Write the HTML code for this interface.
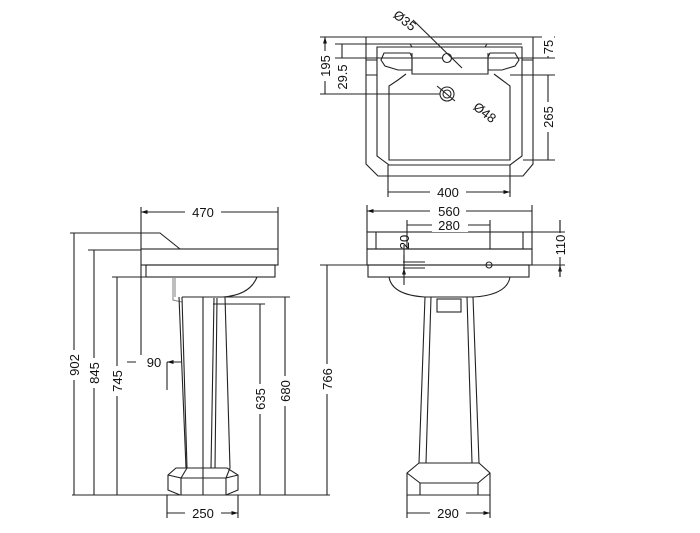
<!DOCTYPE html>
<html><head><style>
html,body{margin:0;padding:0;background:#fff;width:700px;height:533px;overflow:hidden}
svg{display:block}
text{font-family:"Liberation Sans",sans-serif;font-size:13px;fill:#111}
</style></head><body>
<svg width="700" height="533" viewBox="0 0 700 533" xmlns="http://www.w3.org/2000/svg">
<defs>
<marker id="a" viewBox="0 0 10 10" refX="10" refY="5" markerWidth="6" markerHeight="6" orient="auto-start-reverse"><path d="M0,2 L10,5 L0,8 z" fill="#111"/></marker>
</defs>
<g fill="none" stroke="#222" stroke-width="1.1">
<polygon points="366,37 533,37 533,164 523,176 378,176 366,164"/>
<polygon points="377,47 522,47 522,156 510,165 389,165 377,156"/>
<path d="M377,44 L410,44 L412,47 M485,47 L487,44 L522,44"/>
<path d="M410,44 L487,44"/>
<polyline points="412,53 412,74 488,74 488,53"/>
<polygon points="384,53 410,53 412,57 412,70 398,70 385,66 381,60"/>
<polygon points="515,53 490,53 488,57 488,70 502,70 515,66 519,60"/>
<polyline points="406,74 398,80 389,86 389,160 510,160 510,86 502,80 494,74"/>
<path d="M366,60 L377,60 M366,75 L377,75 M522,60 L533,60 M522,75 L533,75"/>
<circle cx="447" cy="58" r="4.5"/>
<circle cx="447" cy="94" r="7"/><circle cx="447" cy="94" r="4"/>
<path d="M413,20 L462,68 M437,86 L455,101"/>
<path d="M320,37 L366,37 M335,44 L377,44 M335,58 L443,58 M320,94 L440,94 M452,58 L555,58 M533,37 L555,37 M510,75 L555,75 M523,160 L555,160 M388,165 L388,197 M510,165 L510,197"/>
<path d="M325,37 L325,94 M342,44 L342,58 M548,37 L548,58 M548,75 L548,160 M388,192 L510,192" marker-start="url(#a)" marker-end="url(#a)"/>
<rect x="141" y="249" width="137" height="16"/>
<rect x="146" y="265" width="129" height="12"/>
<path d="M70,233 L160,233 L180,249"/>
<path d="M257,277 Q250,295 223,297"/>
<path d="M175,277 L175,297 M173,277 L173,300 L182,302" stroke="#888"/>
<polyline points="182,297 225,297"/>
<path d="M182,297 L187,468 M225,297 L230,468 M203,297 L203,495 M214,298 L211,468 M217,298 L215,468"/>
<path d="M179,297 L186,468"/>
<polygon points="176,468 227,468 238,475 238,490 226,495 180,495 168,490 168,475"/>
<path d="M187,468 L181,478 L168,475 M230,468 L226,478 L238,475 M181,478 L181,495 M226,478 L226,495 M181,478 L226,478"/>
<path d="M141,249 L141,207 M278,249 L278,207 M88,250 L141,250 M112,277 L146,277 M225,297 L290,297 M213,304 L265,304 M72,495 L290,495 M141,265 L141,356 M167,495 L167,518 M238,495 L238,518 M167,362 L167,390"/>
<path d="M141,212 L278,212 M74,233 L74,495 M94,250 L94,495 M117,277 L117,495 M260,304 L260,495 M285,297 L285,495 M167,513 L238,513" marker-start="url(#a)" marker-end="url(#a)"/>
<path d="M127,362 L141,362 M181,362 L167,362" marker-end="url(#a)"/>
<rect x="367" y="232" width="165" height="17"/>
<path d="M376,232 L376,249 M523,232 L523,249 M407,232 L407,249 M490,232 L490,249"/>
<rect x="367" y="249" width="165" height="16"/>
<rect x="368" y="265" width="161" height="12"/>
<path d="M389,277 Q392,295 425,297 M510,277 Q507,295 473,297"/>
<path d="M425,297 L473,297 M425,297 L419,463 M473,297 L479,463 M431,297 L426,463 M467,297 L472,463"/>
<rect x="437" y="299" width="24" height="13"/>
<polygon points="419,463 479,463 490,473 490,495 407,495 407,473"/>
<path d="M407,473 L420,483 L478,483 L490,473 M420,483 L420,495 M478,483 L478,495"/>
<path d="M403,262 L425,262 M403,268 L425,268 M485,265 L500,265"/>
<circle cx="489" cy="265" r="3"/>
<path d="M367,232 L367,205 M532,232 L532,205 M407,232 L407,220 M490,232 L490,220 M532,232 L565,232 M529,265 L565,265 M320,265 L367,265 M290,495 L330,495 M407,495 L407,518 M490,495 L490,518"/>
<path d="M367,211 L532,211 M407,225 L490,225 M327,265 L327,495 M407,513 L490,513" marker-start="url(#a)" marker-end="url(#a)"/>
<path d="M560,220 L560,232 M560,277 L560,265" marker-end="url(#a)"/>
<path d="M404,255 L404,262 M404,275 L404,268" marker-end="url(#a)"/>
<path d="M560,220 L560,277 M404,245 L404,285"/>
</g>
<g>
<rect x="185" y="205" width="36" height="14" fill="#fff"/><text x="203" y="217" text-anchor="middle">470</text>
<rect x="136" y="355" width="24" height="14" fill="#fff"/><text x="154" y="367" text-anchor="middle">90</text>
<rect x="185" y="506" width="36" height="14" fill="#fff"/><text x="203" y="518" text-anchor="middle">250</text>
<rect x="430" y="185" width="36" height="14" fill="#fff"/><text x="448" y="197" text-anchor="middle">400</text>
<rect x="430" y="204" width="36" height="14" fill="#fff"/><text x="449" y="216" text-anchor="middle">560</text>
<rect x="432" y="218" width="36" height="14" fill="#fff"/><text x="449" y="230" text-anchor="middle">280</text>
<rect x="430" y="506" width="36" height="14" fill="#fff"/><text x="448" y="518" text-anchor="middle">290</text>
<rect x="68" y="350" width="12" height="30" fill="#fff"/><text transform="translate(79,365) rotate(-90)" text-anchor="middle">902</text>
<rect x="88" y="358" width="12" height="30" fill="#fff"/><text transform="translate(99,373) rotate(-90)" text-anchor="middle">845</text>
<rect x="111" y="366" width="12" height="30" fill="#fff"/><text transform="translate(122,381) rotate(-90)" text-anchor="middle">745</text>
<rect x="254" y="384" width="12" height="30" fill="#fff"/><text transform="translate(265,399) rotate(-90)" text-anchor="middle">635</text>
<rect x="279" y="376" width="12" height="30" fill="#fff"/><text transform="translate(290,391) rotate(-90)" text-anchor="middle">680</text>
<rect x="321" y="364" width="12" height="30" fill="#fff"/><text transform="translate(332,379) rotate(-90)" text-anchor="middle">766</text>
<rect x="319" y="51" width="12" height="30" fill="#fff"/><text transform="translate(330,66) rotate(-90)" text-anchor="middle">195</text>
<rect x="336" y="62" width="12" height="30" fill="#fff"/><text transform="translate(347,77) rotate(-90)" text-anchor="middle">29.5</text>
<rect x="542" y="36" width="12" height="20" fill="#fff"/><text transform="translate(553,47) rotate(-90)" text-anchor="middle">75</text>
<rect x="542" y="102" width="12" height="30" fill="#fff"/><text transform="translate(553,117) rotate(-90)" text-anchor="middle">265</text>
<rect x="554" y="233" width="12" height="24" fill="#fff"/><text transform="translate(565,245) rotate(-90)" text-anchor="middle">110</text>
<text transform="translate(409,242) rotate(-90)" text-anchor="middle">20</text>
<text transform="translate(402,24) rotate(38)" text-anchor="middle">Ø35</text>
<text transform="translate(482,116) rotate(38)" text-anchor="middle">Ø48</text>
</g>
</svg>
</body></html>
